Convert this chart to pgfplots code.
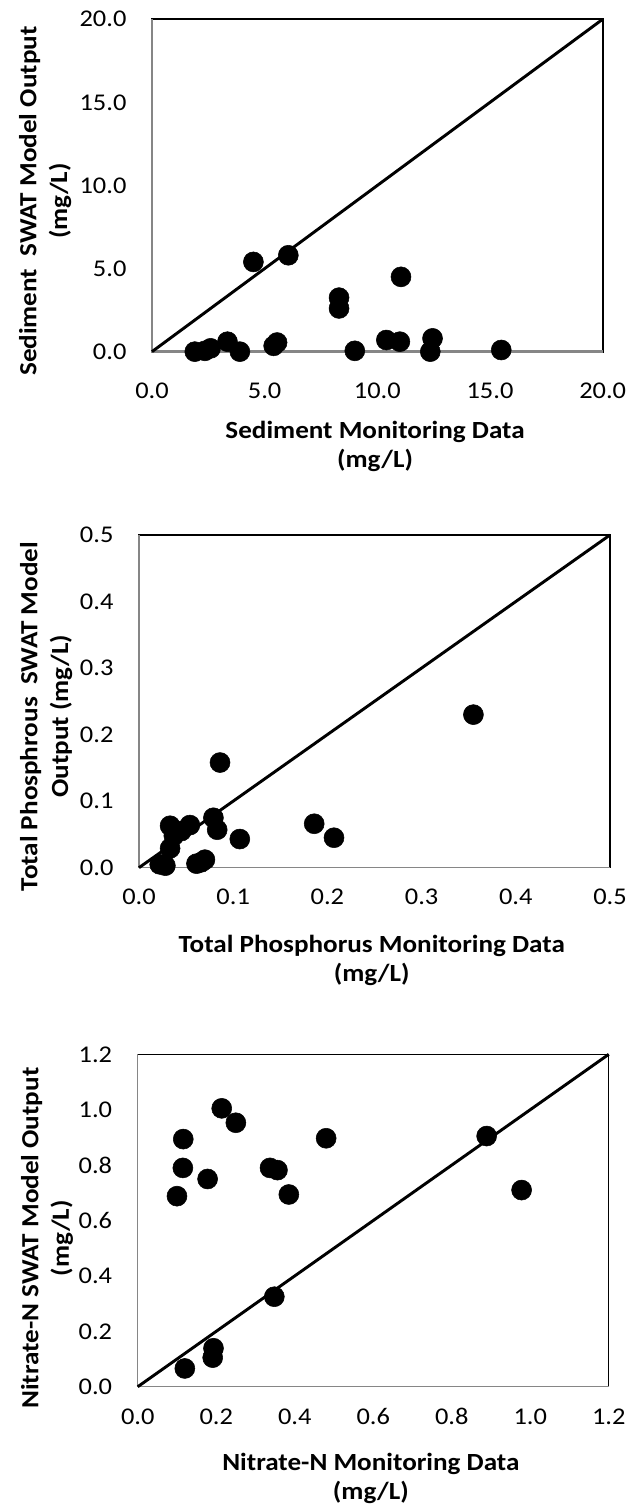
\documentclass[border=0pt]{standalone}
\usepackage{fontspec}
\setmainfont{Carlito}[FakeStretch=1.1]
\usepackage{pgfplots}
\pgfplotsset{compat=1.18}
\definecolor{axgray}{RGB}{134,134,134}

\pgfplotstableread{
x y
1.9 0.0
2.35 0.05
2.6 0.2
3.35 0.6
3.9 0.0
5.4 0.35
5.55 0.55
4.5 5.4
6.05 5.8
8.3 3.25
8.3 2.6
9.0 0.05
10.4 0.7
11.0 0.6
11.05 4.5
12.45 0.8
12.35 0.0
15.5 0.1
}\sed

\pgfplotstableread{
x y
0.355 0.23
0.086 0.158
0.186 0.066
0.207 0.045
0.107 0.043
0.079 0.075
0.083 0.057
0.033 0.063
0.054 0.064
0.045 0.055
0.037 0.048
0.033 0.029
0.022 0.005
0.028 0.003
0.061 0.006
0.066 0.008
0.070 0.012
}\tp

\pgfplotstableread{
x y
0.214 1.005
0.25 0.953
0.116 0.894
0.48 0.897
0.115 0.79
0.178 0.75
0.10 0.688
0.337 0.79
0.356 0.782
0.385 0.694
0.348 0.325
0.193 0.139
0.191 0.105
0.12 0.066
0.889 0.905
0.978 0.71
}\nit

\pgfplotsset{
  base/.style={
    scale only axis, clip=false, xmin=0, ymin=0,
    tick style={draw=none},
    major tick length=0pt,
    axis line style={black},
    tick label style={font=\fontsize{18}{20}\selectfont},
    /pgf/number format/.cd, fixed, fixed zerofill, precision=1, assume math mode=true,
    /pgfplots/.cd,
    yticklabel style={anchor=east, inner sep=0pt, xshift=-19pt},
    xlabel style={anchor=center, align=center, font=\bfseries\fontsize{18.5}{21.5}\selectfont},
    ylabel style={anchor=center, align=center, font=\bfseries\fontsize{18.5}{23}\selectfont},
  },
  pts/.style={only marks, mark=*, mark size=7.5pt, mark options={fill=black, draw=black}},
}

\begin{document}
\begin{tikzpicture}
\useasboundingbox (0pt,0pt) rectangle (469.5pt,1133.25pt);

% Plot 1: Sediment
\begin{axis}[base,
  at={(114pt,869.5pt)}, anchor=south west,
  width=338pt, height=249.3pt,
  xmax=20, ymax=20,
  xtick={0,5,10,15,20}, ytick={0,5,10,15,20},
  axis line style={line width=1.5pt},
  xticklabel style={anchor=north, inner sep=0pt, yshift=-22.9pt},
  xlabel={Sediment Monitoring Data\\(mg/L)},
  ylabel={Sediment~ SWAT Model Output\\(mg/L)},
  xlabel style={at={(rel axis cs:0.495,-0.286)}},
  ylabel style={at={(rel axis cs:-0.237,0.453)}},
]
\draw[axgray, line width=1.8pt] (rel axis cs:0,1) -- (rel axis cs:0,0) -- (rel axis cs:1,0);
\addplot[black, line width=2.2pt] coordinates {(0,0) (20,20)};
\addplot[pts] table[x=x,y=y] {\sed};
\end{axis}

% Plot 2: Total Phosphorus
\begin{axis}[base,
  at={(104.25pt,482.5pt)}, anchor=south west,
  width=353.25pt, height=249.5pt,
  xmax=0.5, ymax=0.5,
  xtick={0,0.1,0.2,0.3,0.4,0.5}, ytick={0,0.1,0.2,0.3,0.4,0.5},
  axis line style={line width=1pt},
  xticklabel style={anchor=north, inner sep=0pt, yshift=-15.5pt},
  xlabel={Total Phosphorus Monitoring Data\\(mg/L)},
  ylabel={Total Phosphrous~ SWAT Model\\Output (mg/L)},
  xlabel style={at={(rel axis cs:0.494,-0.279)}},
  ylabel style={at={(rel axis cs:-0.197,0.4545)}},
]
\draw[axgray, line width=1pt] (rel axis cs:0,1) -- (rel axis cs:0,0) -- (rel axis cs:1,0);
\addplot[black, line width=2.2pt] coordinates {(0,0) (0.5,0.5)};
\addplot[pts] table[x=x,y=y] {\tp};
\end{axis}

% Plot 3: Nitrate-N
\begin{axis}[base,
  at={(103.3pt,93.2pt)}, anchor=south west,
  width=353.25pt, height=249.3pt,
  xmax=1.2, ymax=1.2,
  xtick={0,0.2,0.4,0.6,0.8,1.0,1.2}, ytick={0,0.2,0.4,0.6,0.8,1.0,1.2},
  axis line style={line width=1pt},
  xticklabel style={anchor=north, inner sep=0pt, yshift=-16.2pt},
  xlabel={Nitrate-N Monitoring Data\\(mg/L)},
  ylabel={Nitrate-N SWAT Model Output\\(mg/L)},
  xlabel style={at={(rel axis cs:0.495,-0.275)}},
  ylabel style={at={(rel axis cs:-0.1926,0.447)}},
]
\draw[axgray, line width=1pt] (rel axis cs:0,1) -- (rel axis cs:0,0) -- (rel axis cs:1,0);
\addplot[black, line width=2.2pt] coordinates {(0,0) (1.2,1.2)};
\addplot[pts] table[x=x,y=y] {\nit};
\end{axis}
\end{tikzpicture}
\end{document}
